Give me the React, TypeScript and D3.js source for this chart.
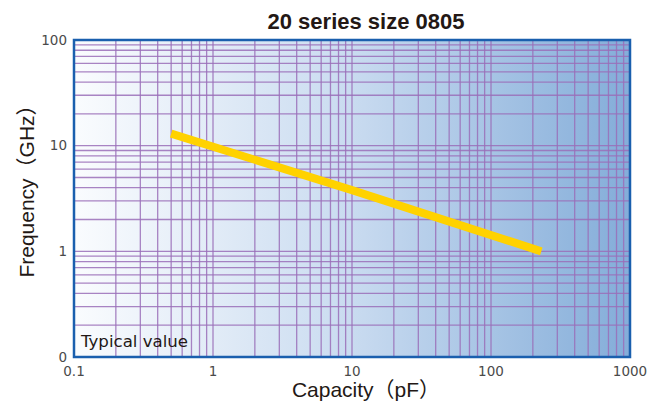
import React from "react";
import * as d3 from "d3";

const capacity = [0.5, 10, 230];
const frequency = [13, 3.8, 1.0];
const xTickValues = [0.1, 1, 10, 100, 1000];
const xTickLabels = ["0.1", "1", "10", "100", "1000"];
const yTickValues = [0.1, 1, 10, 100];
const yTickLabels = ["0", "1", "10", "100"];
const title = "20 series size 0805";
const xTitle = "Capacity（pF）";
const yTitle = "Frequency（GHz）";
const note = "Typical value";

const W = 658;
const H = 407;
const L = 74, R = 630, T = 40, B = 357;

function minorTicks(lo: number, hi: number): number[] {
  const out: number[] = [];
  for (let d = lo; d < hi; d *= 10) {
    for (let m = 1; m < 10; m++) out.push(d * m);
  }
  out.push(hi);
  return out;
}

export default function App() {
  const x = d3.scaleLog().domain([0.1, 1000]).range([L, R]);
  const y = d3.scaleLog().domain([0.1, 100]).range([B, T]);
  const xGrid = minorTicks(0.1, 1000);
  const yGrid = minorTicks(0.1, 100);
  const line = d3
    .line<number>()
    .x((_, i) => x(capacity[i]))
    .y((d) => y(d));

  return (
    <svg width={W} height={H} style={{ position: "absolute", left: 0, top: 0 }}>
      <defs>
        <linearGradient id="bg" x1="0" x2="1" y1="0" y2="0">
          <stop offset="0" stopColor="#fafcfe" />
          <stop offset="0.5" stopColor="#c9dbf0" />
          <stop offset="1" stopColor="#84add9" />
        </linearGradient>
      </defs>
      <rect x={0} y={0} width={W} height={H} fill="#fff" />
      <text
        x={366}
        y={29}
        textAnchor="middle"
        fontFamily="Liberation Sans, Arial, sans-serif"
        fontWeight="bold"
        fontSize={22}
        fill="#231815"
      >
        {title}
      </text>
      <rect x={L} y={T} width={R - L} height={B - T} fill="url(#bg)" />
      {yGrid.map((v, i) => (
        <line
          key={"y" + i}
          x1={L}
          x2={R}
          y1={y(v)}
          y2={y(v)}
          stroke="#9a6fb8"
          strokeWidth={1.3}
          strokeOpacity={0.85}
        />
      ))}
      {xGrid.map((v, i) => (
        <line
          key={"x" + i}
          x1={x(v)}
          x2={x(v)}
          y1={T}
          y2={B}
          stroke="#9a6fb8"
          strokeWidth={1.3}
          strokeOpacity={0.85}
        />
      ))}
      <path
        d={line(frequency) || ""}
        fill="none"
        stroke="#ffd200"
        strokeWidth={8}
        strokeLinecap="butt"
      />
      <rect
        x={L}
        y={T}
        width={R - L}
        height={B - T}
        fill="none"
        stroke="#1a5fae"
        strokeWidth={2.5}
      />
      <text
        x={81}
        y={347}
        fontFamily="DejaVu Sans, sans-serif"
        fontSize={16.6}
        fill="#231815"
      >
        {note}
      </text>
      {xTickValues.map((v, i) => (
        <text
          key={"xt" + i}
          x={x(v)}
          y={376}
          textAnchor="middle"
          fontFamily="DejaVu Sans, sans-serif"
          fontSize={13.5}
          fill="#4a4a4a"
        >
          {xTickLabels[i]}
        </text>
      ))}
      {yTickValues.map((v, i) => (
        <text
          key={"yt" + i}
          x={67}
          y={y(v)}
          dy="0.35em"
          textAnchor="end"
          fontFamily="DejaVu Sans, sans-serif"
          fontSize={13.5}
          fill="#4a4a4a"
        >
          {yTickLabels[i]}
        </text>
      ))}
      <text
        x={366}
        y={397}
        textAnchor="middle"
        fontFamily="Liberation Sans, Arial, 'Noto Sans CJK JP', sans-serif"
        fontSize={21}
        fill="#231815"
      >
        {xTitle}
      </text>
      <text
        transform={`translate(34,186) rotate(-90)`}
        textAnchor="middle"
        fontFamily="Liberation Sans, Arial, 'Noto Sans CJK JP', sans-serif"
        fontSize={21}
        fill="#231815"
      >
        {yTitle}
      </text>
    </svg>
  );
}
